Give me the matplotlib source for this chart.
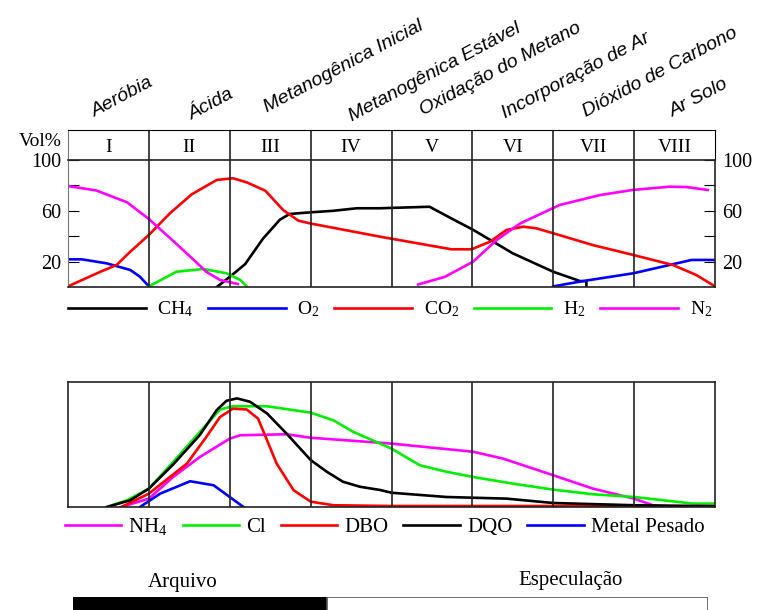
import numpy as np
import matplotlib
matplotlib.use('Agg')
import matplotlib.pyplot as plt

plt.rcParams['font.family'] = ['Liberation Serif', 'DejaVu Serif']
plt.rcParams['mathtext.fontset'] = 'custom'
plt.rcParams['mathtext.rm'] = 'Liberation Serif'
plt.rcParams['mathtext.it'] = 'Liberation Serif:italic'
plt.rcParams['font.size'] = 14

nan = np.nan

# landfill phases
phases = ['I', 'II', 'III', 'IV', 'V', 'VI', 'VII', 'VIII']
phase_names = ['Aeróbia', 'Ácida', 'Metanogênica Inicial', 'Metanogênica Estável',
               'Oxidação do Metano', 'Incorporação de Ar', 'Dióxido de Carbono', 'Ar Solo']
name_x = [0.33, 1.53, 2.46, 3.51, 4.39, 5.40, 6.41, 7.48]
name_y = [1.43, 1.33, 1.57, 1.27, 1.5, 1.4, 1.43, 1.43]

# gas composition (Vol%) against phase position
ch4_x = [1.84, 2.0, 2.19, 2.41, 2.62, 2.74, 3.0, 3.28, 3.57, 3.86, 4.47, 4.74, 5.01, 5.5, 6.0, 6.33, 6.41, 6.41]
ch4_y = [0, 8, 18, 38, 53, 57.5, 58.8, 60, 62, 62, 63.2, 54, 45, 26.5, 12, 4.7, 4.5, 0]
o2_x = [0, 0.17, 0.48, 0.77, 0.89, 1.0, nan, 6.0, 6.37, 6.99, 7.71, 8.0]
o2_y = [21.8, 21.8, 18.6, 13.4, 8.1, 0.5, nan, 0.5, 4.7, 10.8, 21.3, 21.3]
co2_x = [0, 0.4, 0.6, 0.77, 1.0, 1.26, 1.53, 1.84, 2.04, 2.21, 2.44, 2.66, 2.85, 3.0, 3.86,
         4.74, 4.99, 5.22, 5.42, 5.63, 5.79, 6.0, 6.49, 6.99, 7.48, 7.77, 8.0]
co2_y = [0.5, 12, 17.3, 27.8, 41, 58, 73, 84.3, 85.6, 82.4, 75.8, 60.6, 52.2, 50, 39.6,
         29.7, 29.7, 35.7, 44.9, 47.5, 46.2, 42.3, 33, 25.2, 17.3, 9.4, 0.5]
h2_x = [1.0, 1.34, 1.67, 1.96, 2.13, 2.21]
h2_y = [0.5, 12, 14.2, 10.8, 5.5, 0.5]
n2_x = [0, 0.35, 0.73, 1.0, 1.26, 1.51, 1.71, 1.88, 2.1, nan,
        4.33, 4.66, 5.01, 5.3, 5.59, 6.08, 6.58, 6.98, 7.44, 7.65, 7.91]
n2_y = [79.5, 76, 66.7, 53.5, 38.6, 24, 12, 5.5, 2.4, nan,
        2, 8, 20, 37, 50, 64.6, 72.4, 76.4, 79, 78.7, 76.4]

# leachate concentrations (relative)
nh4_x = [0.66, 1.0, 1.3, 1.63, 2.0, 2.13, 2.7, 3.0, 3.86, 4.0, 5.01, 5.38, 6.0, 6.49, 7.0, 7.23, 7.4]
nh4_y = [0, 6.7, 24, 40, 54.7, 57.4, 58.2, 55.4, 51.4, 50.7, 44.2, 38.7, 25.4, 14.7, 6.7, 1.4, 0.5]
cl_x = [0.48, 0.73, 1.0, 1.3, 1.63, 1.88, 2.04, 2.46, 3.0, 3.28, 3.53, 3.86, 4.0, 4.1, 4.35,
        4.68, 5.01, 5.5, 6.0, 6.49, 7.0, 7.73, 8.0]
cl_y = [0, 5.4, 14.7, 36, 60, 78, 80.6, 80.6, 75.5, 69.4, 60, 50.7, 46.7, 42.9, 33.4,
        28.2, 24, 18.7, 13.9, 10.2, 8, 2.7, 2.7]
dbo_x = [0.66, 1.0, 1.47, 1.71, 1.88, 2.04, 2.21, 2.35, 2.46, 2.58, 2.79, 3.0, 3.28, 4.0, 8.0]
dbo_y = [0, 10.7, 34.7, 56, 72, 78.7, 78, 70.7, 53.6, 34.7, 13.4, 4.3, 1.4, 0.8, 0.8]
dqo_x = [0.48, 0.77, 1.0, 1.3, 1.63, 1.84, 1.96, 2.09, 2.25, 2.46, 2.7, 3.0, 3.2, 3.4, 3.61,
         3.86, 4.0, 4.68, 5.42, 6.0, 7.0, 8.0]
dqo_y = [0, 5.4, 14.7, 34, 57.6, 77.6, 85, 86.9, 84.2, 74.9, 58.9, 37.6, 28.2, 20.2, 16.2,
         13.6, 11.4, 8, 6.7, 3.2, 1.4, 0.5]
metal_x = [0.89, 1.14, 1.51, 1.8, 2.0, 2.17]
metal_y = [0, 10.7, 20.6, 17.4, 8, 0]

# archive / speculation split
period_labels = ['Arquivo', 'Especulação']
period_len = [40, 60]

LW = 1.9
edge = '#222222'

fig = plt.figure(figsize=(7.6, 6.1), dpi=100)
L, W = 68 / 760, 647 / 760

ax_head = fig.add_axes([L, 1 - 160 / 610, W, 30 / 610])
ax = fig.add_axes([L, 1 - 287 / 610, W, 127 / 610])
ax2 = fig.add_axes([L, 1 - 507 / 610, W, 125 / 610])
ax_bar = fig.add_axes([73 / 760, -0.005, 635 / 760, 0.026])

# header with phase numerals
ax_head.set_xlim(0, 8)
ax_head.set_ylim(0, 1)
ax_head.set_xticks([])
ax_head.set_yticks([])
for i, p in enumerate(phases):
    ax_head.text(i + 0.5, 0.42, p, ha='center', va='center', fontsize=14)
    ax_head.text(name_x[i], name_y[i], phase_names[i], rotation=28, rotation_mode='anchor',
                 ha='left', va='baseline', family='Liberation Sans', style='italic',
                 fontsize=14, transform=ax_head.get_xaxis_transform(), clip_on=False)
for b in range(1, 8):
    ax_head.axvline(b, color=edge, lw=1.2)
ax_head.text(-0.01, 0.6, 'Vol%', ha='right', va='center', transform=ax_head.transAxes,
             fontsize=14)
ax_head.spines['left'].set_color('#777777')

# gas plot
ax.plot(ch4_x, ch4_y, color='black', lw=LW, label='CH$_4$')
ax.plot(o2_x, o2_y, color='#0000ff', lw=LW, label='O$_2$')
ax.plot(co2_x, co2_y, color='#ff0000', lw=LW, label='CO$_2$')
ax.plot(h2_x, h2_y, color='#00ee00', lw=LW, label='H$_2$')
ax.plot(n2_x, n2_y, color='#ff00ff', lw=LW, label='N$_2$')
for b in range(1, 8):
    ax.axvline(b, color=edge, lw=1.2)
ax.set_xlim(0, 8)
ax.set_ylim(0, 100)
ax.set_xticks([])
ax.set_yticks([20, 40, 60, 80, 100])
ax.set_yticklabels(['20', '', '60', '', '100'])
ax.tick_params(axis='y', direction='in', length=8, left=True, right=True,
               labelleft=True, labelright=True, pad=5, labelsize=14.5)
ax.spines['left'].set_color('#777777')
for s in ['top', 'bottom', 'right']:
    ax.spines[s].set_color(edge)
    ax.spines[s].set_linewidth(1.2)
ax.legend(loc='upper left', bbox_to_anchor=(0, -0.1), ncol=5, frameon=False,
          handlelength=4.0, handletextpad=0.6, columnspacing=0.75,
          borderpad=0, borderaxespad=0, fontsize=14)

# leachate plot
ax2.plot(nh4_x, nh4_y, color='#ff00ff', lw=LW, label='NH$_4$')
ax2.plot(cl_x, cl_y, color='#00ee00', lw=LW, label='Cl')
ax2.plot(dbo_x, dbo_y, color='#ff0000', lw=LW, label='DBO')
ax2.plot(dqo_x, dqo_y, color='black', lw=LW, label='DQO')
ax2.plot(metal_x, metal_y, color='#0000ff', lw=LW, label='Metal Pesado')
for b in range(1, 8):
    ax2.axvline(b, color=edge, lw=1.2)
ax2.set_xlim(0, 8)
ax2.set_ylim(0, 100)
ax2.set_xticks([])
ax2.set_yticks([])
for s in ax2.spines.values():
    s.set_color(edge)
    s.set_linewidth(1.2)
ax2.legend(loc='upper left', bbox_to_anchor=(-0.005, -0.075), ncol=5, frameon=False,
           handlelength=2.7, handletextpad=0.35, columnspacing=0.72,
           borderpad=0, borderaxespad=0, fontsize=15)

# archive / speculation bar
ax_bar.barh(0, period_len[0], left=0, height=1, color='black')
ax_bar.barh(0, period_len[1], left=period_len[0], height=1, facecolor='white',
            edgecolor='#555555', lw=1.2)
ax_bar.set_xlim(0, 100)
ax_bar.set_ylim(-0.5, 0.5)
ax_bar.axis('off')
fig.text(183 / 760, 1 - 582 / 610, period_labels[0], ha='center', va='center', fontsize=15)
fig.text(571 / 760, 1 - 580 / 610, period_labels[1], ha='center', va='center', fontsize=15)

fig.savefig('out.png', dpi=100)
